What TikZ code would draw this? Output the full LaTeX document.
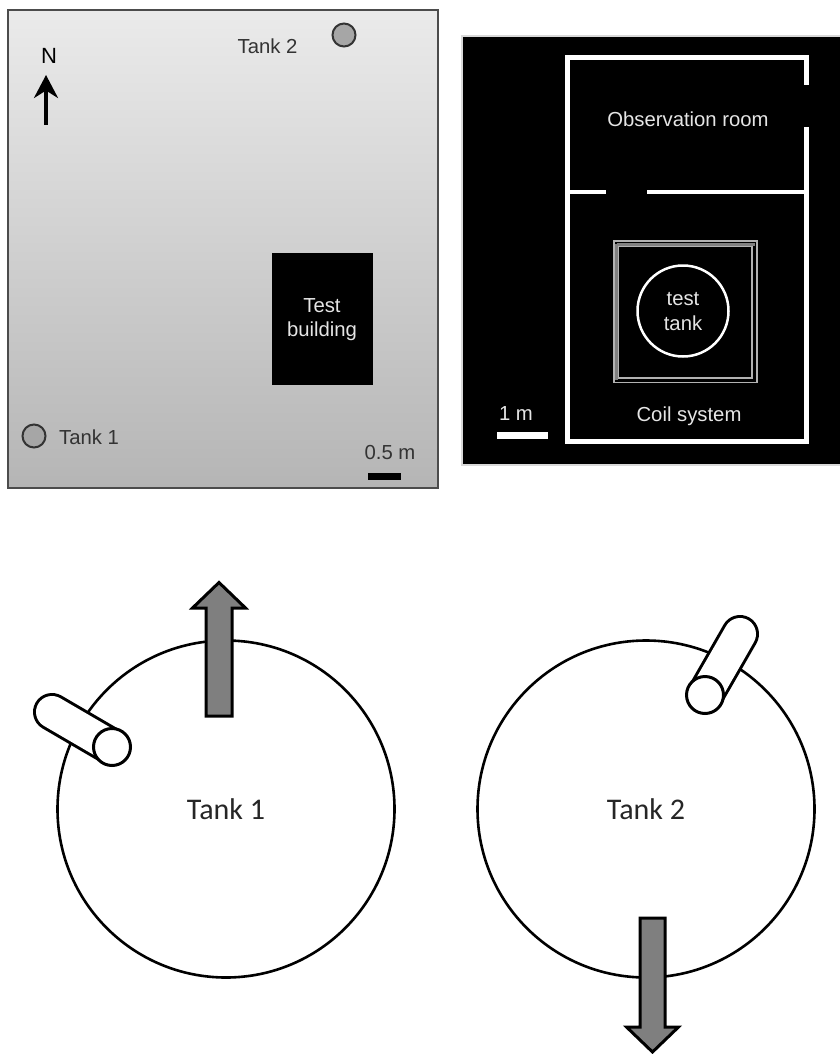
\documentclass[tikz,border=0pt]{standalone}
\usepackage{fontspec}
\setmainfont{Liberation Sans}
\newfontfamily\calibrilike{Carlito}
\usetikzlibrary{arrows.meta}
\definecolor{panelink}{HTML}{333333}
\definecolor{arrowgray}{HTML}{7F7F7F}
\definecolor{spotgray}{HTML}{A6A6A6}

\tikzset{
	maplabel/.style={font=\fontsize{20.3}{24}\selectfont, text=panelink, inner sep=0pt, align=center},
	darklabel/.style={font=\fontsize{20.3}{24.5}\selectfont, text=white!90!black, inner sep=0pt, align=center},
	spot/.style={circle, draw=panelink, line width=2pt, fill=spotgray, minimum size=23pt, inner sep=0pt},
	wall/.style={draw=white, line width=5pt, line cap=butt, line join=miter},
	coil/.style={draw=white!70!black, line width=1.5pt},
	bigtank/.style={circle, draw=black, line width=2.6pt, fill=white, minimum size=337pt, inner sep=0pt, font=\calibrilike\fontsize{30}{34}\selectfont, text=black!85},
	flowarrow/.style={draw=black, line width=3pt, fill=arrowgray, line join=miter},
	pipewall/.style={line width=38pt, line cap=round, draw=black},
	pipefill/.style={line width=32pt, line cap=round, draw=white},
	pipeend/.style={circle, draw=black, line width=3pt, fill=white, minimum size=37pt, inner sep=0pt}
}

\begin{document}
\begin{tikzpicture}[x=1pt, y=-1pt]
	\useasboundingbox (0,0) rectangle (839,1054);

	% site map
	\shade[top color=white!92!black, bottom color=white!71!black] (8,10) rectangle (438,488);
	\draw[draw=black!70, line width=2pt] (8,10) rectangle (438,488);
	\node[fill=black, minimum width=101pt, minimum height=132pt, inner sep=0pt] (building) at (322,318.5) {};
	\node[darklabel] (buildinglabel) at (322,319.5) {Test\\building};
	\node[spot] (spot1) at (34,436) {};
	\node[spot] (spot2) at (344,35) {};
	\node[maplabel] (label1) at (89,437) {Tank 1};
	\node[maplabel] (label2) at (267.5,46) {Tank 2};
	\node[maplabel, font=\fontsize{22}{26}\selectfont, text=black] (north) at (49,56) {N};
	\coordinate (northtail) at (46,125);
	\coordinate (northtip) at (46,75);
	\draw[-{Stealth[length=23pt,width=24pt]}, line width=3.5pt, black] (northtail) -- (northtip);
	\fill[black] (368,473) rectangle (401,480);
	\node[maplabel] (scalemap) at (390,452.5) {0.5 m};

	% test building plan
	\fill[black] (462,36) rectangle (845,465);
	\draw[draw=white!85!black, line width=1.5pt] (845,36) -- (462,36) -- (462,465) -- (845,465);
	\path[wall] (806,85) -- (806,58) -- (567,58) -- (567,441) -- (806,441) -- (806,127);
	\path[wall, line width=3.5pt] (567,192) -- (606,192);
	\path[wall, line width=3.5pt] (647,192) -- (806,192);
	\draw[coil, draw=white!50!black, line width=3pt] (616.5,244) -- (755,244);
	\draw[coil, draw=white!50!black, line width=3pt] (616.5,244) -- (616.5,380);
	\draw[coil] (614,241) rectangle (757,382.5);
	\draw[coil] (618.5,246.5) rectangle (752,378);
	\node[circle, draw=white, line width=2.5pt, fill=black, minimum size=91pt, inner sep=0pt] (testtank) at (683,311) {};
	\node[darklabel] (testlabel) at (683,311.5) {test\\tank};
	\node[darklabel] (room) at (688,119) {Observation room};
	\node[darklabel] (coillabel) at (689,416) {Coil system};
	\fill[white] (497,432) rectangle (548,439);
	\node[darklabel] (scaleplan) at (516,414) {1 m};

	% tank 1
	\node[bigtank] (tank1) at (226,809) {Tank 1};
	\coordinate (pipe1a) at (112,747);
	\coordinate (pipe1b) at (52,712);
	\draw[pipewall] (pipe1a) -- (pipe1b);
	\draw[pipefill] (pipe1a) -- (pipe1b);
	\node[pipeend] (mouth1) at (pipe1a) {};
	\draw[flowarrow] (206,716) -- (206,608) -- (192.5,608) -- (219,582.5) -- (245.5,608) -- (232,608) -- (232,716) -- cycle;

	% tank 2
	\node[bigtank] (tank2) at (646,809) {Tank 2};
	\coordinate (pipe2a) at (705,695);
	\coordinate (pipe2b) at (740,634);
	\draw[pipewall] (pipe2a) -- (pipe2b);
	\draw[pipefill] (pipe2a) -- (pipe2b);
	\node[pipeend] (mouth2) at (pipe2a) {};
	\draw[flowarrow] (640,918) -- (640,1027) -- (626.5,1027) -- (652.5,1052) -- (678.5,1027) -- (665,1027) -- (665,918) -- cycle;
\end{tikzpicture}
\end{document}
